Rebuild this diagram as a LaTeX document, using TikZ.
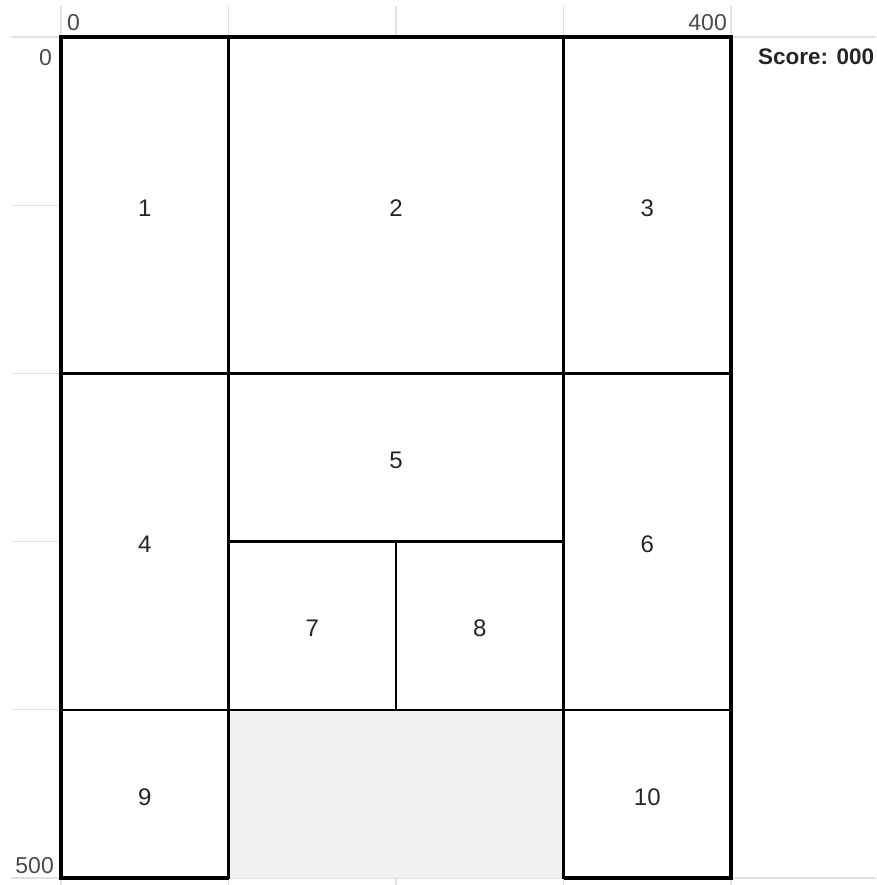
\documentclass[tikz,border=0pt]{standalone}
\usepackage{fontspec}
\setmainfont{Liberation Sans}
\definecolor{gridline}{HTML}{E2E2E2}
\definecolor{emptycell}{HTML}{F1F1F1}
\definecolor{axis}{HTML}{4A4A4A}
\definecolor{ink}{HTML}{262626}

\begin{document}
\begin{tikzpicture}[
  x=1pt, y=-1pt,
  grid/.style={draw=gridline, line width=1.3pt},
  piece/.style={draw=black, fill=white, line width=2.5pt},
  frame/.style={draw=black, line width=3.6pt},
  lbl/.style={font=\fontsize{24}{24}\selectfont, text=ink, yshift=-3pt},
  axislbl/.style={font=\fontsize{23}{23}\selectfont, text=axis, inner sep=0pt}
]
\useasboundingbox (0,0) rectangle (876,885);

% ruler lines outside the board
\foreach \gx in {61,228.5,396,563.5,731}
  \draw[grid] (\gx,6) -- (\gx,37) (\gx,878) -- (\gx,885);
\foreach \gy in {205.2,373.4,541.6,709.8}
  \draw[grid] (11,\gy) -- (61,\gy);
\draw[grid] (11,37) -- (876,37);
\draw[grid] (11,878) -- (876,878);

% board, in board units (400 x 500)
\begin{scope}[shift={(61,37)}, x=1.675pt, y=-1.682pt]
  \fill[emptycell] (100,400) rectangle (300,500);
  \draw[piece] (0,0) rectangle (100,200);
  \draw[piece] (100,0) rectangle (300,200);
  \draw[piece] (300,0) rectangle (400,200);
  \draw[piece] (0,200) rectangle (100,400);
  \draw[piece] (100,200) rectangle (300,300);
  \draw[piece] (300,200) rectangle (400,400);
  \draw[piece] (100,300) rectangle (200,400);
  \draw[piece] (200,300) rectangle (300,400);
  \draw[piece] (0,400) rectangle (100,500);
  \draw[piece] (300,400) rectangle (400,500);
  \draw[frame] (100,500) -- (0,500) -- (0,0) -- (400,0) -- (400,500) -- (300,500);

  \node[lbl] (p1) at (50,100) {1};
  \node[lbl] (p2) at (200,100) {2};
  \node[lbl] (p3) at (350,100) {3};
  \node[lbl] (p4) at (50,300) {4};
  \node[lbl] (p5) at (200,250) {5};
  \node[lbl] (p6) at (350,300) {6};
  \node[lbl] (p7) at (150,350) {7};
  \node[lbl] (p8) at (250,350) {8};
  \node[lbl] (p9) at (50,450) {9};
  \node[lbl] (p10) at (350,450) {10};
\end{scope}

% axis marks and score
\node[axislbl, anchor=base west] (xmin) at (67,30.7) {0};
\node[axislbl, anchor=base east] (xmax) at (727,30.7) {400};
\node[axislbl, anchor=base east] (ymin) at (52,65.5) {0};
\node[axislbl, anchor=base east] (ymax) at (54,873) {500};
\node[font=\fontsize{22.5}{22.5}\selectfont\bfseries, text=ink, inner sep=0pt, anchor=base west] (score) at (758,65) {Score: 000};
\end{tikzpicture}
\end{document}
